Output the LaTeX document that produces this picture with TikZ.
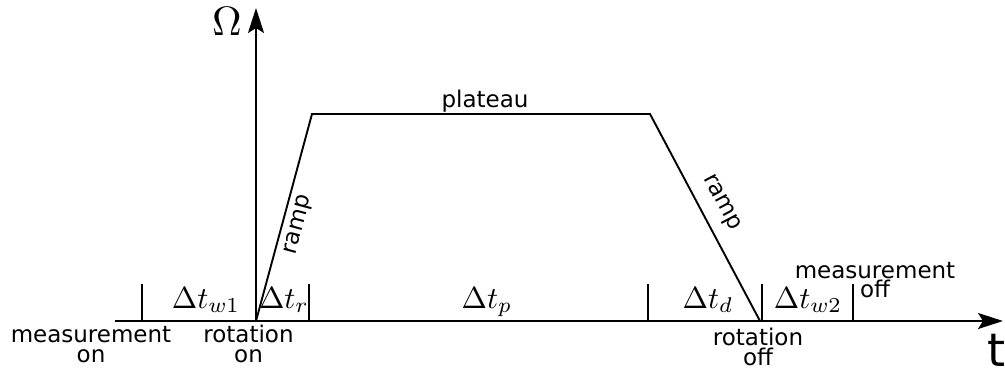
\documentclass[tikz,border=0pt]{standalone}
\usepackage[no-math]{fontspec}
\setmainfont{DejaVu Sans}
\usetikzlibrary{arrows.meta}
\begin{document}
\begin{tikzpicture}[x=1pt,y=-1pt,
  line width=1.9pt,
  lbl/.style={font=\fontsize{23}{20}\selectfont, inner sep=0pt, align=center, anchor=base},
  dt/.style={font=\fontsize{10}{12}\selectfont, inner sep=0pt, anchor=base, scale=3.05},
  tickmark/.style={line width=1.6pt},
  axisarrow/.style={-{Stealth[length=25pt,width=16pt,inset=5pt]}}]
\useasboundingbox (0,0) rectangle (1005,368);
% axes
\coordinate (O) at (256,321);
\coordinate (xs) at (115,321);
\coordinate (xe) at (1003,321);
\coordinate (ye) at (256,8);
\draw[axisarrow] (xs) -- (xe);
\draw[axisarrow] (O) -- (ye);
% profile
\coordinate (A) at (312,114);
\coordinate (B) at (650,114);
\coordinate (C) at (760,321);
\draw (O) -- (A) -- (B) -- (C);
% ticks
\foreach \x/\n in {142/t1,309/t2,648/t3,762/t4,853/t5}{
  \coordinate (\n top) at (\x,284);
  \coordinate (\n bot) at (\x,321);
  \draw[tickmark] (\n top) -- (\n bot);
}
% axis labels
\node[anchor=base, inner sep=0pt, font=\fontsize{10}{12}\selectfont, scale=4.1] (omega) at (227,35) {$\Omega$};
\node[anchor=base, inner sep=0pt, font=\fontsize{46}{46}\selectfont] (tlabel) at (997,366) {t};
% interval labels
\node[dt] (dtw1) at (206,308) {$\Delta t_{w1}$};
\node[dt] (dtr) at (284,308) {$\Delta t_{r}$};
\node[dt] (dtp) at (487,308) {$\Delta t_{p}$};
\node[dt] (dtd) at (708,308) {$\Delta t_{d}$};
\node[dt] (dtw2) at (808,308) {$\Delta t_{w2}$};
% event labels (base anchor = last line)
\node[lbl] (meason) at (91,362) {measurement\\on};
\node[lbl] (roton) at (248.5,362) {rotation\\on};
\node[lbl] (rotoff) at (758,365) {rotation\\off};
\node[lbl, font=\fontsize{23}{19}\selectfont] (measoff) at (875,297) {measurement\\off};
% segment labels
\node[lbl] (plateau) at (485,107) {plateau};
\node[inner sep=0pt, font=\fontsize{23}{20}\selectfont, rotate=75] (rampl) at (299,225) {ramp};
\node[inner sep=0pt, font=\fontsize{23}{20}\selectfont, rotate=-62] (rampr) at (721,203) {ramp};
\end{tikzpicture}
\end{document}
